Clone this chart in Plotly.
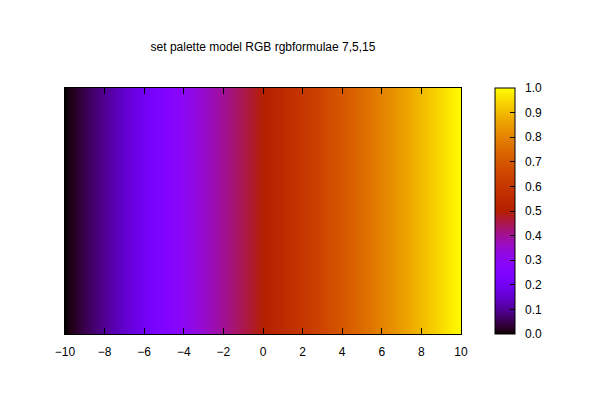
import math
import plotly.graph_objects as go

# Data: x positions along the axis and the palette value (gray level) at each
x_vals = [-10, -8, -6, -4, -2, 0, 2, 4, 6, 8, 10]
gray_vals = [0.0, 0.1, 0.2, 0.3, 0.4, 0.5, 0.6, 0.7, 0.8, 0.9, 1.0]
y_vals = [0, 1]

x_ticks = [-10, -8, -6, -4, -2, 0, 2, 4, 6, 8, 10]
cb_ticks = [0.0, 0.1, 0.2, 0.3, 0.4, 0.5, 0.6, 0.7, 0.8, 0.9, 1.0]

title_text = "set palette model RGB rgbformulae 7,5,15"


# gnuplot rgbformulae 7,5,15 palette: R = sqrt(g), G = g^3, B = sin(360 g)
def clip(v):
    return max(0.0, min(1.0, v))


stops = []
n = 200
for i in range(n + 1):
    g = i / n
    r = clip(math.sqrt(g))
    gg = clip(g ** 3)
    b = clip(math.sin(2 * math.pi * g))
    stops.append([g, f"rgb({round(r*255)},{round(gg*255)},{round(b*255)})"])

OFF = 8  # browser default body margin

fig = go.Figure()
fig.add_trace(go.Heatmap(
    x=x_vals,
    y=y_vals,
    z=[gray_vals, gray_vals],
    zmin=0, zmax=1,
    zsmooth="best",
    colorscale=stops,
    colorbar=dict(
        thickness=20,
        thicknessmode="pixels",
        len=246,
        lenmode="pixels",
        x=(495 - 65) / 396,
        xanchor="left",
        xpad=0,
        y=0.5,
        yanchor="middle",
        ypad=0,
        outlinewidth=1,
        outlinecolor="black",
        ticks="inside",
        ticklen=5,
        tickcolor="black",
        tickvals=cb_ticks,
        ticktext=["\u00a0\u00a0" + f"{v:.1f}" for v in cb_ticks],
        tickfont=dict(family="Liberation Sans, Arial", size=12, color="black"),
    ),
    hoverinfo="skip",
))

fig.update_layout(
    width=600, height=400,
    margin=dict(l=65 - OFF, r=139 + OFF, t=88 - OFF, b=66 + OFF),
    paper_bgcolor="white",
    plot_bgcolor="white",
    font=dict(family="Liberation Sans, Arial", size=12, color="black"),
    title=dict(
        text=title_text,
        x=(263 - OFF) / 600, xanchor="center", xref="container",
        y=1 - (47 - OFF) / 400, yanchor="middle", yref="container",
        font=dict(size=12, color="black"),
    ),
    xaxis=dict(
        range=[-10, 10],
        tickvals=x_ticks,
        ticks="inside",
        ticklen=6,
        tickcolor="black",
        showline=True, linecolor="black", linewidth=1, mirror="ticks",
        showgrid=False, zeroline=False,
        tickfont=dict(size=12),
        ticklabelstandoff=7,
    ),
    yaxis=dict(
        range=[0, 1],
        showticklabels=False,
        ticks="",
        showline=True, linecolor="black", linewidth=1, mirror=True,
        showgrid=False, zeroline=False,
    ),
)

fig.write_html("out.html")
